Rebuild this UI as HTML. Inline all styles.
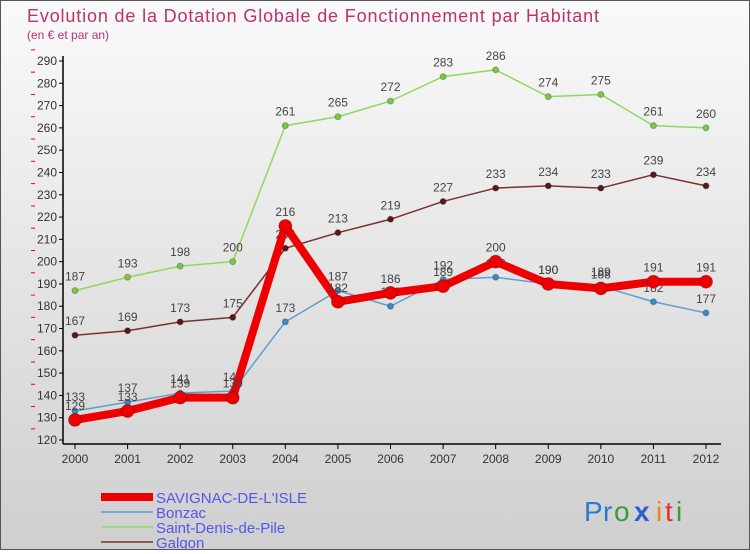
<!DOCTYPE html>
<html><head><meta charset="utf-8"><style>
body{margin:0;width:750px;height:550px;overflow:hidden;font-family:"Liberation Sans",sans-serif}
#wrap{position:relative;width:748px;height:548px;border:1px solid #555;background:linear-gradient(#fafafa,#cfcfcf)}
</style></head><body>
<div id="wrap">
<svg id="chart" width="748" height="548"></svg>
</div>
<script>
const years=[2000,2001,2002,2003,2004,2005,2006,2007,2008,2009,2010,2011,2012];
const savignac=[129,133,139,139,216,182,186,189,200,190,188,191,191];
const bonzac=[133,137,141,142,173,187,180,192,193,190,189,182,177];
const saintDenis=[187,193,198,200,261,265,272,283,286,274,275,261,260];
const galgon=[167,169,173,175,206,213,219,227,233,234,233,239,234];
const yTicks=[120,130,140,150,160,170,180,190,200,210,220,230,240,250,260,270,280,290];
const NS='http://www.w3.org/2000/svg';
const svg=document.getElementById('chart');
const x=i=>74+i*(631/12);
const y=v=>439-(v-120)*(379/170);
function mk(tag,attrs,parent){const e=document.createElementNS(NS,tag);for(const k in attrs)e.setAttribute(k,attrs[k]);(parent||svg).appendChild(e);return e;}
function txt(s,attrs){const t=mk('text',attrs);t.textContent=s;return t;}
let e;
e=txt('Evolution de la Dotation Globale de Fonctionnement par Habitant',{x:26,y:21,'font-size':18,fill:'#c0306a',textLength:572});

e=txt('(en € et par an)',{x:26,y:38,'font-size':12,fill:'#c0306a'});

e=mk('line',{x1:62,y1:55,x2:62,y2:443,stroke:'#000','stroke-width':1.5});

e=mk('line',{x1:62,y1:443,x2:720,y2:443,stroke:'#000','stroke-width':1.5});

yTicks.forEach(v=>{
 mk('line',{x1:58,y1:y(v),x2:62,y2:y(v),stroke:'#000'});
 mk('line',{x1:30,y1:y(v+5),x2:34,y2:y(v+5),stroke:'#e00'});
 e=txt(v,{x:56,y:y(v)+4,'font-size':12,fill:'#333','text-anchor':'end'});
 
});
years.forEach((yr,i)=>{
 mk('line',{x1:x(i),y1:443,x2:x(i),y2:448,stroke:'#000'});
 e=txt(yr,{x:x(i),y:462,'font-size':12,fill:'#333','text-anchor':'middle'});
 
});
function series(vals,color,dot,w,r,name){
 const g=mk('g',{});
 
 mk('polyline',{points:vals.map((v,i)=>x(i)+','+y(v)).join(' '),fill:'none',stroke:color,'stroke-width':w,'stroke-linejoin':'round'},g);
 vals.forEach((v,i)=>{
  const c=mk('circle',{cx:x(i),cy:y(v),r:r,fill:dot,stroke:'rgba(0,0,0,0.25)'},g);
  
  const t=mk('text',{x:x(i),y:y(v)-10,'font-size':12,fill:'#444','text-anchor':'middle'},g);
  t.textContent=v;
 });
}
series(saintDenis,'#8fd860','#7cc840',1.5,3,'saint-denis-de-pile');
series(galgon,'#7a3030','#5a1818',1.5,3,'galgon');
series(bonzac,'#5aa0d0','#3a8ac8',1.5,3,'bonzac');
series(savignac,'#ee0000','#ee0000',8,6.5,'savignac');
const leg=[['SAVIGNAC-DE-L\'ISLE','#ee0000',8],['Bonzac','#7aaad0',2],['Saint-Denis-de-Pile','#9ed880',2],['Galgon','#8a5a5a',2]];
leg.forEach((l,i)=>{
 const g=mk('g',{});
 
 const yy=496+i*15;
 mk('line',{x1:100,y1:yy,x2:152,y2:yy,stroke:l[1],'stroke-width':l[2]},g);
 const t=mk('text',{x:155,y:yy+6,'font-size':15,fill:'#5555ee'},g);t.textContent=l[0];
});
const g=mk('g',{});

[['P','#2a7ad0'],['r','#2a7ad0'],['o','#3a9a3a'],['x','#2a60c8'],['i','#f08020'],['t','#e03030'],['i','#3a9a3a']].forEach((c,i)=>{
 const t=mk('text',{x:583+[0,19,30,50,72,81,92][i],y:520,'font-size':28,'font-weight':i==3?'bold':'normal',fill:c[1]},g);t.textContent=c[0];
});
</script>
</body></html>
